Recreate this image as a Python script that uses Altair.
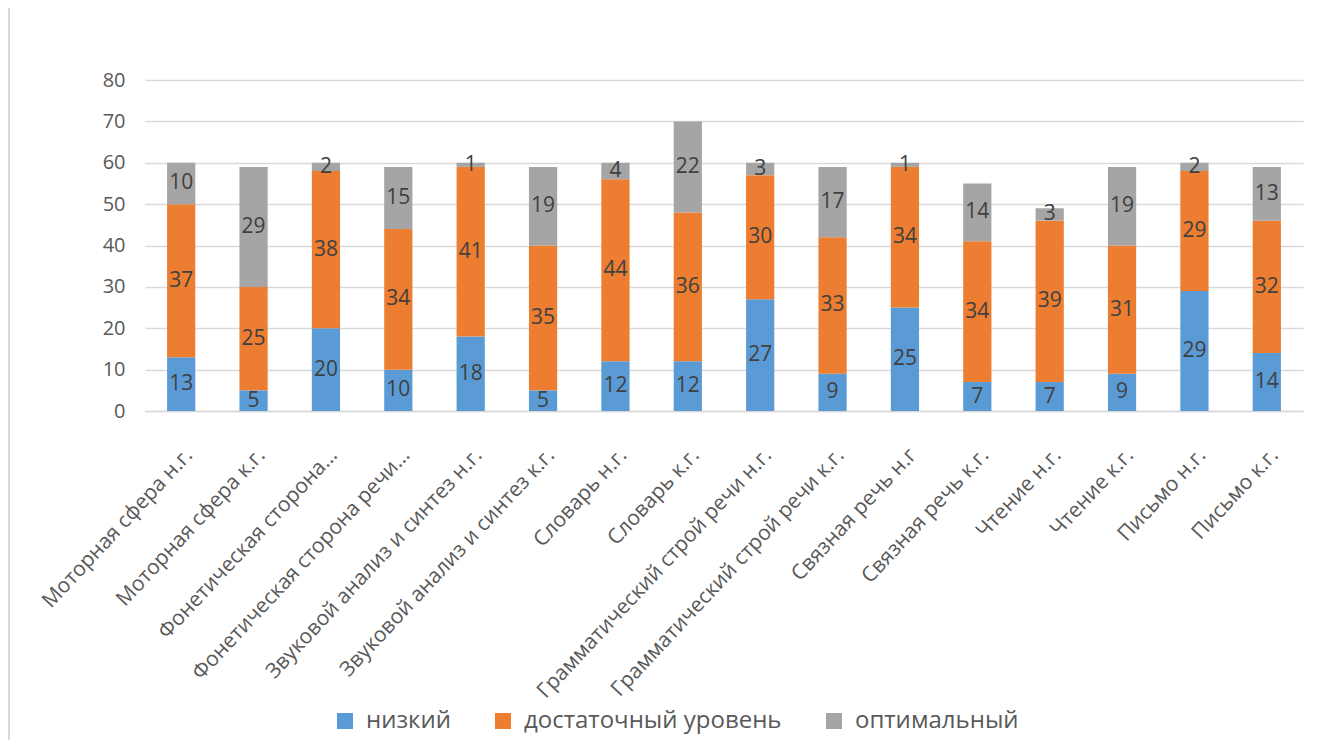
import altair as alt
import pandas as pd

categories = [
    "Моторная сфера н.г.", "Моторная сфера к.г.", "Фонетическая сторона...",
    "Фонетическая сторона речи...", "Звуковой анализ и синтез н.г.",
    "Звуковой анализ и синтез к.г.", "Словарь н.г.", "Словарь к.г.",
    "Грамматический строй речи н.г.", "Грамматический строй речи к.г.",
    "Связная речь н.г", "Связная речь к.г.", "Чтение н.г.", "Чтение к.г.",
    "Письмо н.г.", "Письмо к.г.",
]
low = [13, 5, 20, 10, 18, 5, 12, 12, 27, 9, 25, 7, 7, 9, 29, 14]
mid = [37, 25, 38, 34, 41, 35, 44, 36, 30, 33, 34, 34, 39, 31, 29, 32]
high = [10, 29, 2, 15, 1, 19, 4, 22, 3, 17, 1, 14, 3, 19, 2, 13]
series = ["низкий", "достаточный уровень", "оптимальный"]
colors = ["#5B9BD5", "#ED7D31", "#A5A5A5"]
y_ticks = [0, 10, 20, 30, 40, 50, 60, 70, 80]

rows = []
for i, c in enumerate(categories):
    for k, (s, vals) in enumerate(zip(series, [low, mid, high])):
        rows.append({"cat": c, "series": s, "value": vals[i], "order": k})
df = pd.DataFrame(rows)

FONT = "Open Sans"

x = alt.X(
    "cat:N", sort=categories,
    scale=alt.Scale(paddingInner=0.61, paddingOuter=0.305),
    axis=alt.Axis(title=None, labelAngle=-47, labelAlign="right", labelBaseline="top",
                  labelFontSize=21, labelColor="#595959", labelPadding=33,
                  labelLimit=500, domainColor="#d9d9d9", domainWidth=1.5, ticks=False,
                  labelFont=FONT),
)

base = alt.Chart(df).transform_stack(
    stack="value", groupby=["cat"], sort=[alt.SortField("order", order="ascending")],
    as_=["v0", "v1"],
).transform_calculate(midv="(datum.v0 + datum.v1) / 2")

bars = base.mark_bar().encode(
    x=x,
    y=alt.Y("v0:Q", scale=alt.Scale(domain=[0, 80], nice=False),
            axis=alt.Axis(title=None, values=y_ticks, grid=True, gridColor="#d9d9d9",
                          gridWidth=1.5, domain=False, ticks=False, labelPadding=20,
                          labelFontSize=20, labelColor="#595959", labelFont=FONT)),
    y2="v1:Q",
    color=alt.Color(
        "series:N", sort=series,
        scale=alt.Scale(domain=series, range=colors),
        legend=alt.Legend(title=None, orient="none", legendX=188, legendY=629,
                          direction="horizontal", symbolType="square", symbolSize=256,
                          symbolStrokeWidth=0, labelFontSize=24, labelColor="#595959",
                          labelFont=FONT, labelOffset=9, columnPadding=40, labelLimit=500),
    ),
)

texts = base.mark_text(fontSize=21, color="#404040", font=FONT).encode(
    x=x,
    y=alt.Y("midv:Q"),
    text=alt.Text("value:Q"),
)

border = alt.Chart(pd.DataFrame({"a": [0]})).mark_rule(color="#d9d9d9", strokeWidth=2).encode(
    x=alt.value(-136), y=alt.value(-80), y2=alt.value(660)
)

chart = alt.layer(bars, texts, border).properties(
    width=1158, height=331,
    autosize=alt.AutoSizeParams(type="none"),
    padding={"left": 137, "top": 72, "right": 5, "bottom": 330},
).configure_view(stroke=None)

chart.save("out.html", embed_options={"renderer": "svg", "actions": False})
